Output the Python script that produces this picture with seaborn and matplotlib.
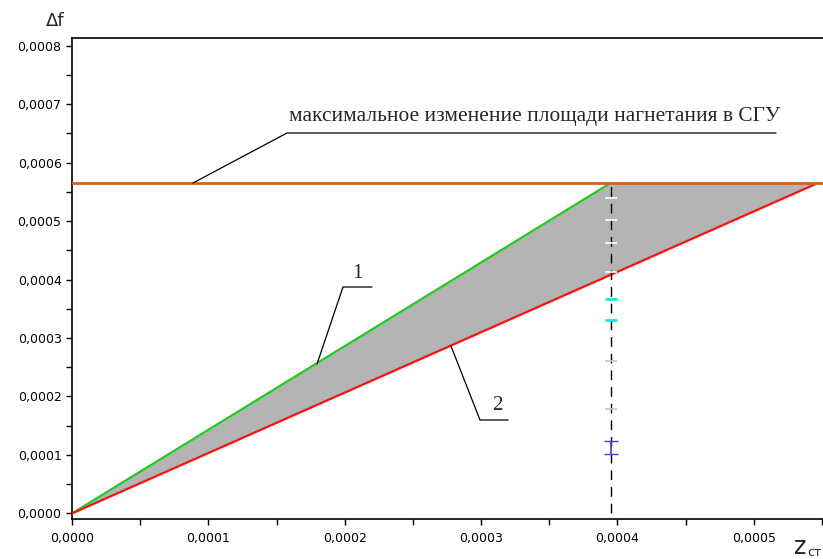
import numpy as np
import pandas as pd
import matplotlib
matplotlib.use("Agg")
import matplotlib.pyplot as plt
import seaborn as sns
from matplotlib.ticker import MultipleLocator, FuncFormatter

# данные
z_line1 = [0.0, 0.000395]      # кривая 1 (зелёная)
f_line1 = [0.0, 0.000565]
z_line2 = [0.0, 0.000547]      # кривая 2 (красная)
f_line2 = [0.0, 0.000565]
f_max = 0.000565               # максимальное изменение площади
z_cut = 0.000395               # вертикальная пунктирная линия

# метки на пунктирной линии
cap_white = [0.000539, 0.000501, 0.000462, 0.000412]
cap_cyan = [0.000367, 0.000330]
cap_gray = [0.000260, 0.000179]
bar_blue = [0.000102, 0.000124]

sns.set_style("ticks", {"axes.edgecolor": "black", "xtick.color": "black",
                        "ytick.color": "black"})
plt.rcParams['font.family'] = ['DejaVu Sans']

fig = plt.figure(figsize=(8.23, 5.59), dpi=100)
ax = fig.add_axes([72 / 823, 1 - 518.5 / 559, 1 - 72 / 823 + 0.002, (518.5 - 38) / 559])

# заливка между кривыми
ax.fill([z_line1[0], z_line1[1], z_line2[1]], [f_line1[0], f_max, f_max],
        color="#b4b4b4", lw=0, zorder=1)

df1 = pd.DataFrame({"z": z_line1, "f": f_line1})
df2 = pd.DataFrame({"z": z_line2, "f": f_line2})
sns.lineplot(data=df1, x="z", y="f", color="#22cc22", lw=1.6, ax=ax, zorder=3)
sns.lineplot(data=df2, x="z", y="f", color="#ff1010", lw=1.6, ax=ax, zorder=3)
ax.axhline(f_max, color="#d8621a", lw=2, zorder=4)
ax.plot([z_cut, z_cut], [0, f_max], color="black", lw=1, ls=(0, (7, 5)), zorder=5)

# метки на пунктире
ax.plot([z_cut] * len(cap_white), cap_white, ls="none", marker="_", ms=9, mew=1.2,
        color="white", zorder=6)
ax.plot([z_cut] * len(cap_cyan), cap_cyan, ls="none", marker="_", ms=9, mew=2,
        color="#22e0e0", zorder=6)
ax.plot([z_cut] * len(cap_gray), cap_gray, ls="none", marker="_", ms=9, mew=1.2,
        color="#c8c8c8", zorder=6)
ax.errorbar([z_cut], [np.mean(bar_blue)], yerr=[(bar_blue[1] - bar_blue[0]) / 2],
            color="#4040e0", capsize=5, lw=1.2, zorder=6)

ax.set_xlim(0, 0.000552)
ax.set_ylim(-0.0000087, 0.000813)
ax.xaxis.set_major_locator(MultipleLocator(0.0001))
ax.xaxis.set_minor_locator(MultipleLocator(0.00005))
ax.yaxis.set_major_locator(MultipleLocator(0.0001))
ax.yaxis.set_minor_locator(MultipleLocator(0.00005))
fmt = FuncFormatter(lambda v, p: f"{v:.4f}".replace(".", ","))
ax.xaxis.set_major_formatter(fmt)
ax.yaxis.set_major_formatter(fmt)
ax.tick_params(which="both", direction="out", length=4, width=1, labelsize=9)
ax.tick_params(axis="x", pad=6)
ax.set_xlabel("")
ax.set_ylabel("")
for s in ["left", "bottom", "top"]:
    ax.spines[s].set_visible(True)
    ax.spines[s].set_linewidth(1.2)
ax.spines["right"].set_visible(False)

# подписи
fig.text(55 / 823, 1 - 21 / 559, "Δf", fontsize=13, ha="center", va="center")
fig.text(800 / 823, 1 - 547 / 559, "z", fontsize=17, ha="center", va="center")
fig.text(807 / 823, 1 - 552 / 559, "ст", fontsize=9, ha="left", va="center")

serif = ['Liberation Serif', 'DejaVu Serif']


def px(x, y):
    return x, 559 - y


# выноска к горизонтальной линии
xs, ys = zip(px(193, 183), px(287, 133), px(776, 133))
fig.add_artist(plt.Line2D(xs, ys, color="black", lw=0.9, transform=None))
fig.text(289 / 823, 1 - 116 / 559, "максимальное изменение площади нагнетания в СГУ",
         fontsize=15.4, family=serif, ha="left", va="center")

# выноска 1
xs, ys = zip(px(317, 364), px(343, 287), px(372, 287))
fig.add_artist(plt.Line2D(xs, ys, color="black", lw=0.9, transform=None))
fig.text(357 / 823, 1 - 274 / 559, "1", fontsize=15, family=serif, ha="center", va="center")

# выноска 2
xs, ys = zip(px(451, 346), px(480, 420), px(508, 420))
fig.add_artist(plt.Line2D(xs, ys, color="black", lw=0.9, transform=None))
fig.text(497 / 823, 1 - 406 / 559, "2", fontsize=15, family=serif, ha="center", va="center")

fig.savefig("out.png", dpi=100)
